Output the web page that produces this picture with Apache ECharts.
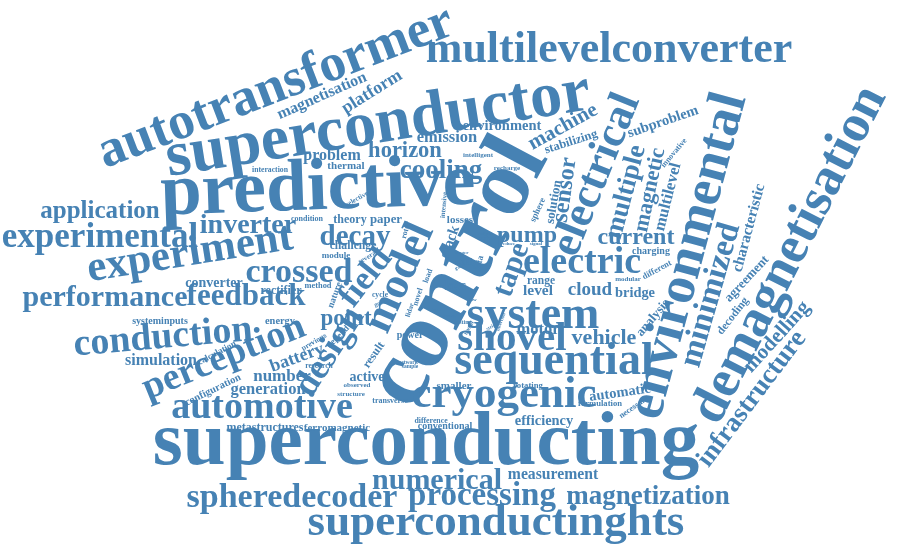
<!DOCTYPE html>
<html><head><meta charset="utf-8">
<script src="https://cdn.jsdelivr.net/npm/echarts@6/dist/echarts.min.js"></script>
<style>html,body{margin:0;padding:0;background:#fff}#c{width:900px;height:553px}</style>
</head><body><div id="c"></div>
<script>
// word cloud: words, weights (font size), layout position (x, y) and angle
const words = ["superconducting","control","predictive","superconductor","autotransformer","demagnetisation","environmental","multilevelconverter","superconductinghts","sequential","system","cryogenic","electrical","experiment","shovel","model",
"field","design","perception","conduction","automotive","experimental","crossed","spheredecoder","processing","feedback","numerical","performance","tape","minimized","infrastructure","electric","decay","inverter","cooling","magnetization","multiple","application","sensor","pump","current","point","horizon","magnetic","vehicle","machine","modelling","cloud","platform","battery","number","generation","motor","multilevel","emission","problem","simulation","magnetisation","measurement","characteristic","level","stack","environment","subproblem","automatic","efficiency","bridge","converter","-loss","active","analysis","agreement","solution","stabilizing","theory","paper","rectifier","result","metastructures","challenge","decoding","range","thermal","losses","smaller","ferromagnetic","configuration","energy","systeminputs","charging","conventional","power","nature","study","module","calculation","depend","data","sphere","rotating","different","formulation","method","necessary","condition","innovative","transverse","rotor","load","novel","difference","interaction","cycle","previous","research","intelligent","recharge","structure","observed","modular","selective","intensive","several","lidar","going","testing","carbon","based","network","sample","type","heavy","strip","insertion","slow","larger","good","output","reduce","signal"];
const weights = [77,95,74,64,53,53,54,44,45,46,46,45,44,43,41,44,
34,36,38,38,38,35,34,34,33,31,30,30,30,33,27,38,29,28,27,27,27,25,24,24,24,23,22.5,22,22,21,21,19,18,18,17,16.5,16.5,16.5,16.5,16,16,16,15.7,15.5,15.4,15,14.5,14.5,14.5,14.4,14.4,14,14,14,13,13,13,12.5,12,12.8,12,12,12,11.7,11.5,11.5,11,11,11,11,10.5,10.4,10,10,10,10,9.5,9.4,9,9,9,9,9,8.7,8.6,8.6,8.4,8.3,8,8,8,8,8,8,7.8,7.7,7.6,7.6,7.6,7,7,7,7,7,7,7,7,7,6,6,6,6,5.6,5.5,5,5,5,5,5,5,5,5,5,5];
const xs = [426,459,318,378,276,790,689,609,496,554,533,504,597,190,512,400,
366,330,224,163,262,100,299,292,482,246,437,105,512,711,752,582,355,248,441,648,626,100,565,527,636,346,405,650,604,563,777,590,372,297,282,268,538,668,447,332,161,322,553,749,538,450,502,663,620,544,635,214,453,367,653,747,554,571,350,386,281,374,265,353,733,541,346,460,454,337,213,280,160,651,445,410,335,466,336,217,338,479,538,528,657,600,318,634,307,674,390,406,428,418,431,270,380,314,319,478,507,351,357,628,357,444,368,410,381,463,487,469,408,410,436,450,491,501,472,462,460,485,508,536];
const ys = [444,273,190,126,88,255,256,51,523,362,316,395,175,254,339,278,
278,352,358,338,408,238,273,498,496,297,481,298,270,295,399,263,238,226,171,497,192,212,190,236,238,319,151,190,338,127,337,290,92,358,377,390,330,197,138,156,361,96,475,228,291,242,126,122,393,421,293,283,286,377,318,279,202,142,220,220,291,355,428,246,316,281,166,220,386,428,390,321,321,251,426,335,295,263,256,353,337,264,210,386,270,404,286,407,219,153,401,230,276,297,421,170,295,342,366,155,168,394,385,279,199,205,257,310,303,322,238,328,363,367,310,316,327,322,300,253,267,234,244,244];
const angles = [0,62,2,9,21,63,75,0,0,0,0,0,68,9,0,66,
52,57,22,5,0,0,0,0,0,0,0,0,70,74,53,0,0,0,0,0,75,0,82,0,0,0,0,78,0,29,48,0,32,20,0,0,0,76,0,0,0,24,0,75,0,70,0,19,8,0,0,0,0,0,50,47,80,18,0,0,0,55,0,0,52,0,0,0,0,0,26,0,0,0,0,0,70,0,0,28,45,75,65,0,28,0,0,35,0,50,0,75,70,72,0,0,0,30,0,0,0,0,0,0,30,85,30,72,20,0,0,60,0,0,0,0,30,70,0,0,20,0,0,0];

const data = words.map((w, i) => ({
  value: [xs[i], ys[i]],
  label: { formatter: w, fontSize: weights[i], rotate: angles[i] }
}));

const chart = echarts.init(document.getElementById('c'), null, { renderer: 'canvas' });
chart.setOption({
  animation: false,
  backgroundColor: '#ffffff',
  grid: { left: 0, right: 0, top: 0, bottom: 0 },
  xAxis: { type: 'value', min: 0, max: 900, show: false },
  yAxis: { type: 'value', min: 0, max: 553, inverse: true, show: false },
  series: [{
    type: 'scatter',
    silent: true,
    symbolSize: 0,
    itemStyle: { color: 'rgba(0,0,0,0)' },
    label: {
      show: true,
      position: 'inside',
      color: '#4682b4',
      opacity: 1,
      fontFamily: '"Liberation Serif", "DejaVu Serif", serif',
      fontWeight: 'bold',
      align: 'center',
      verticalAlign: 'middle'
    },
    labelLayout: { hideOverlap: false },
    data: data
  }]
});
</script></body></html>
